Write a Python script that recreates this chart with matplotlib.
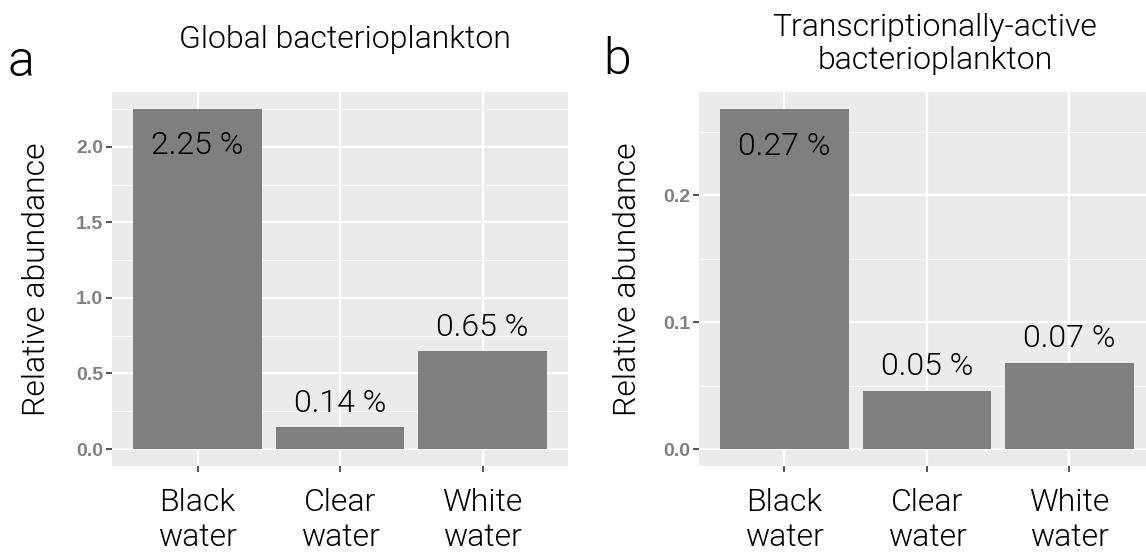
import matplotlib.pyplot as plt
from matplotlib.ticker import MultipleLocator

# data
categories = ["Black\nwater", "Clear\nwater", "White\nwater"]
global_abund = [2.25, 0.145, 0.647]
global_labels = ["2.25 %", "0.14 %", "0.65 %"]
active_abund = [0.268, 0.046, 0.068]
active_labels = ["0.27 %", "0.05 %", "0.07 %"]

plt.rcParams['font.family'] = ['Roboto', 'DejaVu Sans']
TW = 300  # light text weight
FS = 23

W, H = 1146, 558
fig = plt.figure(figsize=(W / 100, H / 100), dpi=100)


def px_axes(x0, x1, y0, y1):
    return fig.add_axes([x0 / W, 1 - y1 / H, (x1 - x0) / W, (y1 - y0) / H])


def panel(ax, values, labels, major, minor):
    x = list(range(1, len(values) + 1))
    ax.set_facecolor('#EBEBEB')
    ax.set_axisbelow(True)
    ax.bar(x, values, width=0.9, color='#7F7F7F', zorder=2)
    top = max(values)
    ax.set_xlim(0.4, len(values) + 0.6)
    ax.set_ylim(-0.05 * top, 1.05 * top)
    ax.yaxis.set_major_locator(MultipleLocator(major))
    ax.yaxis.set_minor_locator(MultipleLocator(minor))
    ax.yaxis.set_major_formatter(lambda v, p: f"{v:.1f}")
    ax.grid(which='major', color='white', linewidth=1.6)
    ax.grid(which='minor', axis='y', color='white', linewidth=0.8, alpha=0.7)
    ax.set_xticks(x)
    ax.set_xticklabels(categories, fontsize=FS, fontweight=TW,
                       color='black', linespacing=1.3)
    ax.tick_params(axis='x', length=4.5, width=1.2, color='#333333', pad=11)
    ax.tick_params(axis='y', which='major', length=4.5, width=1.2,
                   color='#333333', labelsize=14, labelcolor='#808080', pad=2)
    ax.tick_params(axis='y', which='minor', length=0)
    for s in ax.spines.values():
        s.set_visible(False)
    for xi, v, lab in zip(x, values, labels):
        off = -37 if v == top else 24
        ax.annotate(lab, (xi, v), xytext=(0, off * 0.72), textcoords='offset points',
                    ha='center', va='center', fontsize=FS, fontweight=TW)


ax1 = px_axes(112, 568, 92, 466)
panel(ax1, global_abund, global_labels, 0.5, 0.25)

ax2 = px_axes(699, 1155, 92, 466)
panel(ax2, active_abund, active_labels, 0.1, 0.05)

for ax in (ax1, ax2):
    for lab in ax.get_yticklabels():
        lab.set_fontfamily(['Liberation Sans', 'DejaVu Sans'])
        lab.set_fontweight('bold')

fig.text(37 / W, 1 - 279 / H, "Relative abundance", rotation=90, ha='center',
         va='center', fontsize=FS, fontweight=TW)
fig.text(627 / W, 1 - 279 / H, "Relative abundance", rotation=90, ha='center',
         va='center', fontsize=FS, fontweight=TW)

fig.text(345 / W, 1 - 40 / H, "Global bacterioplankton", ha='center',
         va='center', fontsize=FS, fontweight=TW)
fig.text(935 / W, 1 - 44 / H, "Transcriptionally-active\nbacterioplankton",
         ha='center', va='center', fontsize=FS, fontweight=TW, linespacing=1.2)

fig.text(21 / W, 1 - 62 / H, "a", ha='center', va='center', fontsize=36,
         fontweight=TW)
fig.text(617 / W, 1 - 60 / H, "b", ha='center', va='center', fontsize=36,
         fontweight=TW)

fig.savefig("out.png", dpi=100)
